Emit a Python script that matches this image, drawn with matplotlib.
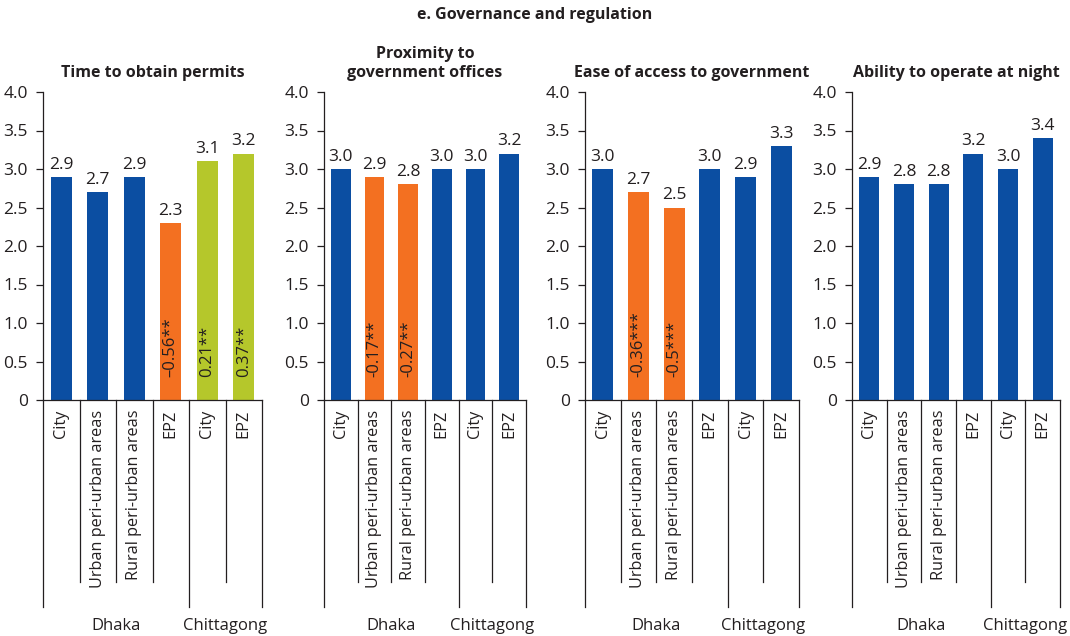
import matplotlib
matplotlib.use("Agg")
import matplotlib.pyplot as plt
import matplotlib.transforms as mtransforms

plt.rcParams['font.family'] = ['Open Sans', 'DejaVu Sans']

TEXT = '#231F20'
BLUE = '#0B4EA2'
ORANGE = '#F37021'
GREEN = '#B5C72B'

main_title = "e. Governance and regulation"
categories = ["City", "Urban peri-urban areas", "Rural peri-urban areas", "EPZ", "City", "EPZ"]
groups = ["Dhaka", "Chittagong"]
group_sizes = [4, 2]

titles = ["Time to obtain permits", "Proximity to\ngovernment offices",
          "Ease of access to government", "Ability to operate at night"]

values_permits = [2.9, 2.7, 2.9, 2.3, 3.1, 3.2]
values_proximity = [3.0, 2.9, 2.8, 3.0, 3.0, 3.2]
values_access = [3.0, 2.7, 2.5, 3.0, 2.9, 3.3]
values_night = [2.9, 2.8, 2.8, 3.2, 3.0, 3.4]

colors_permits = [BLUE, BLUE, BLUE, ORANGE, GREEN, GREEN]
colors_proximity = [BLUE, ORANGE, ORANGE, BLUE, BLUE, BLUE]
colors_access = [BLUE, ORANGE, ORANGE, BLUE, BLUE, BLUE]
colors_night = [BLUE] * 6

diff_permits = [None, None, None, "\u20130.56**", "0.21**", "0.37**"]
diff_proximity = [None, "-0.17**", "-0.27**", None, None, None]
diff_access = [None, "-0.36***", "-0.5***", None, None, None]
diff_night = [None] * 6

yticks = [0, 0.5, 1.0, 1.5, 2.0, 2.5, 3.0, 3.5, 4.0]
yticklabels = ["0", "0.5", "1.0", "1.5", "2.0", "2.5", "3.0", "3.5", "4.0"]

panels = [
    (titles[0], values_permits, colors_permits, diff_permits),
    (titles[1], values_proximity, colors_proximity, diff_proximity),
    (titles[2], values_access, colors_access, diff_access),
    (titles[3], values_night, colors_night, diff_night),
]

W, H = 1070, 636
fig = plt.figure(figsize=(W / 100, H / 100), dpi=100)

# axes extents in pixels (left, right)
ax_px = [(43, 262), (324, 526), (585, 799), (852, 1060)]
y_top, y_bot = 92, 400
ax_h = y_bot - y_top

fig.text(535 / W, 1 - 15 / H, main_title, ha='center', va='center',
         fontsize=11.5, fontweight='bold', color=TEXT)

for (x0, x1), (title, vals, cols, diffs) in zip(ax_px, panels):
    ax = fig.add_axes([x0 / W, 1 - y_bot / H, (x1 - x0) / W, ax_h / H])
    n = len(categories)
    xs = list(range(n))
    bars = ax.bar(xs, vals, width=0.58, color=cols, zorder=2)
    ax.bar_label(bars, labels=[f"{v:.1f}" for v in vals], padding=3,
                 fontsize=12.5, color=TEXT)
    for x, d in zip(xs, diffs):
        if d is not None:
            ax.text(x, 0.3, d, rotation=90, ha='center', va='bottom',
                    fontsize=12, color=TEXT)
    ax.set_xlim(-0.5, n - 0.5)
    ax.set_ylim(0, 4.0)
    ax.set_yticks(yticks)
    ax.set_yticklabels(yticklabels)
    ax.set_xticks([])
    for s in ['top', 'right']:
        ax.spines[s].set_visible(False)
    for s in ['left', 'bottom']:
        ax.spines[s].set_color(TEXT)
        ax.spines[s].set_linewidth(0.9)
    ax.tick_params(axis='y', length=5, width=0.9, color=TEXT, pad=6,
                   labelsize=12.5, labelcolor=TEXT)

    trans = mtransforms.blended_transform_factory(ax.transData, ax.transAxes)
    long_y = -(607 - y_bot) / ax_h
    short_y = -(582 - y_bot) / ax_h
    bounds = [-0.5]
    for g in group_sizes:
        bounds.append(bounds[-1] + g)
    for i in range(n + 1):
        xb = i - 0.5
        yb = long_y if xb in bounds else short_y
        ax.plot([xb, xb], [0, yb], transform=trans, color=TEXT, lw=0.9,
                clip_on=False)
    for x, c in zip(xs, categories):
        ax.text(x, -10 / ax_h, c, rotation=90, ha='center', va='top',
                transform=trans, fontsize=11.7, color=TEXT)
    for gi, g in enumerate(groups):
        cx = (bounds[gi] + bounds[gi + 1]) / 2
        ax.text(cx, -(626 - y_bot) / ax_h, g, ha='center', va='center',
                transform=trans, fontsize=12, color=TEXT)
    ax.text(0.5, 1 + 15 / ax_h, title, ha='center', va='baseline',
            transform=ax.transAxes, fontsize=11.5, fontweight='bold',
            color=TEXT, linespacing=1.25)

fig.savefig("out.png", dpi=100)
